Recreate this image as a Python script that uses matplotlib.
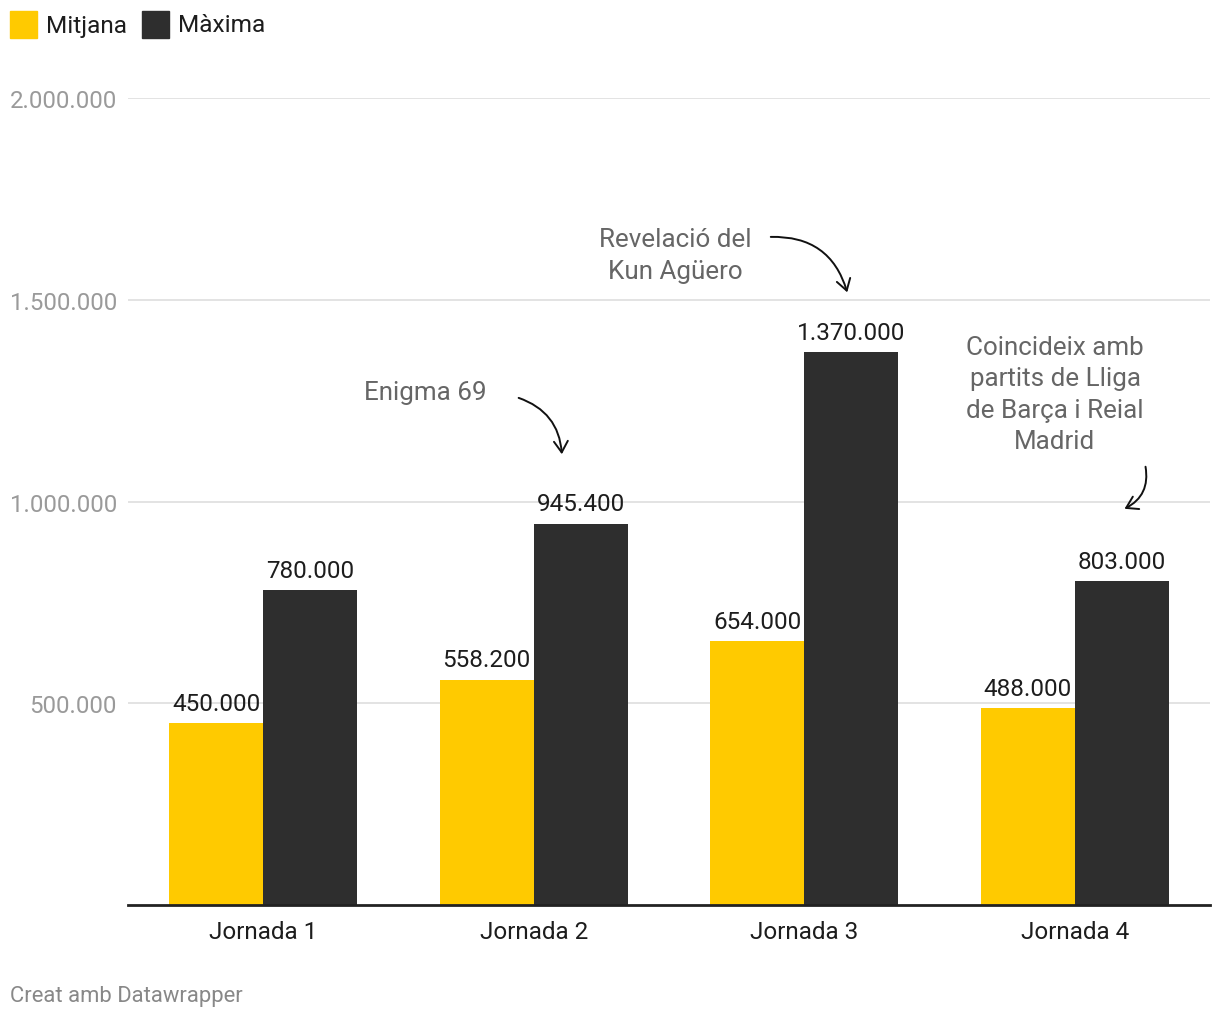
import matplotlib
matplotlib.use("Agg")
import matplotlib.pyplot as plt
from matplotlib.patches import Rectangle, FancyArrowPatch
import numpy as np

plt.rcParams['font.family'] = ['Roboto', 'DejaVu Sans']

# data
jornades = ["Jornada 1", "Jornada 2", "Jornada 3", "Jornada 4"]
mitjana = [450000, 558200, 654000, 488000]
maxima = [780000, 945400, 1370000, 803000]
yticks = [500000, 1000000, 1500000, 2000000]

YELLOW = "#ffca00"
DARK = "#2e2e2e"


def fmt(v):
    return f"{v:,.0f}".replace(",", ".")


W, H = 1220, 1020
fig = plt.figure(figsize=(W / 100, H / 100), dpi=100)
ax = fig.add_axes([128 / W, 114 / H, (1210 - 128) / W, (906 - 99) / H])

x = np.arange(len(jornades))
bw = 0.348
b1 = ax.bar(x - bw / 2, mitjana, bw, color=YELLOW, zorder=3)
b2 = ax.bar(x + bw / 2, maxima, bw, color=DARK, zorder=3)

for bars, vals in ((b1, mitjana), (b2, maxima)):
    for r, v in zip(bars, vals):
        ax.annotate(fmt(v), (r.get_x() + r.get_width() / 2, v),
                    xytext=(0, 6), textcoords="offset points",
                    ha="center", va="bottom", fontsize=17.5, color="#1d1d1d")

ax.set_xlim(-0.5, 3.5)
ax.set_ylim(0, 2000000)
ax.set_xticks(x)
ax.set_xticklabels(jornades, fontsize=17.5, color="#1d1d1d")
ax.set_yticks(yticks)
ax.set_yticklabels([fmt(v) for v in yticks], fontsize=17.3, color="#9a9a9a")
ax.tick_params(axis="both", length=0)
ax.tick_params(axis="y", pad=8)
ax.tick_params(axis="x", pad=10.5)
ax.grid(axis="y", color="#e3e3e3", linewidth=1.4, zorder=0)
for s in ("top", "right", "left"):
    ax.spines[s].set_visible(False)
ax.spines["bottom"].set_color("#222222")
ax.spines["bottom"].set_linewidth(2)
ax.spines["bottom"].set_zorder(4)


# annotations, positions given in pixels of the figure and converted
def px(xp, yp):
    return ((xp - 128) / (1210 - 128)) * 4 - 0.5, (906 - yp) / 807 * 2000000


note_kw = dict(fontsize=18.7, color="#666666", ha="center", va="center",
               linespacing=1.38, annotation_clip=False)
ax.annotate("Enigma 69", px(425, 393), **note_kw)
ax.annotate("Revelació del\nKun Agüero", px(675, 256), **note_kw)
ax.annotate("Coincideix amb\npartits de Lliga\nde Barça i Reial\nMadrid",
            px(1055, 395), **note_kw)

arrows = [((516, 398), (562, 458), -0.35),
          ((768, 238), (848, 296), -0.4),
          ((1145, 465), (1122, 511), -0.4)]
for (s, e, rad) in arrows:
    a = FancyArrowPatch(px(*s), px(*e), connectionstyle=f"arc3,rad={rad}",
                        arrowstyle="->,head_length=8,head_width=5",
                        color="#111111", linewidth=1.4, mutation_scale=1,
                        clip_on=False, zorder=5)
    ax.add_patch(a)

# legend
fig.add_artist(Rectangle((10 / W, 1 - 39 / H), 27 / W, 27 / H,
                         color=YELLOW, transform=fig.transFigure))
fig.text(46 / W, 1 - 26 / H, "Mitjana", fontsize=17.6, color="#1d1d1d",
         va="center", ha="left")
fig.add_artist(Rectangle((142 / W, 1 - 39 / H), 27 / W, 27 / H,
                         color=DARK, transform=fig.transFigure))
fig.text(178 / W, 1 - 26 / H, "Màxima", fontsize=17.6, color="#1d1d1d",
         va="center", ha="left")

fig.text(10 / W, 1 - 997 / H, "Creat amb Datawrapper", fontsize=15.8,
         color="#888888", va="center", ha="left")

fig.savefig("out.png", dpi=100, facecolor="white")
